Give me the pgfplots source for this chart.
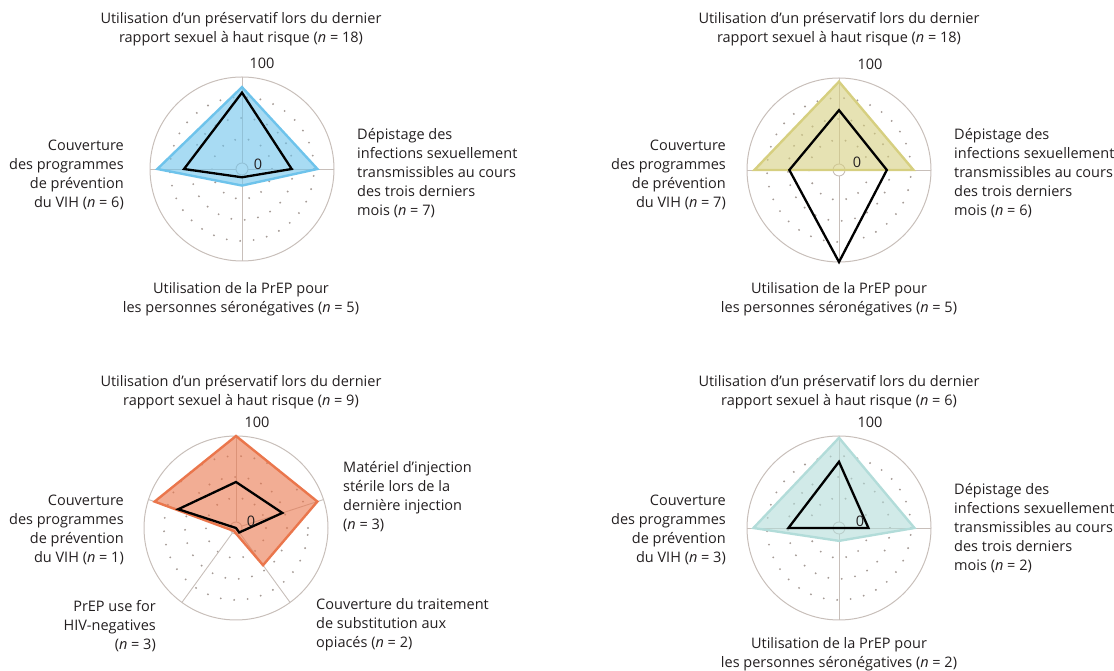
\documentclass[border=0pt]{standalone}
\usepackage{pgfplots}
\pgfplotsset{compat=1.18}
\usepackage{pgfplotstable}
\usepackage{fontspec}
\setmainfont{Open Sans}

\definecolor{gridgray}{RGB}{200,191,186}
\definecolor{dotgray}{RGB}{165,155,150}
\definecolor{txt}{RGB}{35,31,32}
\definecolor{cblue}{RGB}{110,195,235}
\definecolor{cyellow}{RGB}{214,207,128}
\definecolor{corange}{RGB}{234,118,76}
\definecolor{cteal}{RGB}{178,220,217}

% angle (deg), value (%)
\pgfplotstableread{
a v
90 89
0 82
-90 18
180 92
}\tabAarea
\pgfplotstableread{
a v
90 83
0 54
-90 9
180 63
}\tabAline
\pgfplotstableread{
a v
90 96
0 81
-90 0
180 92
}\tabBarea
\pgfplotstableread{
a v
90 65
0 52
-90 100
180 54
}\tabBline
\pgfplotstableread{
a v
90 100
18 93
-54 50
-126 4
162 93
}\tabCarea
\pgfplotstableread{
a v
90 50
18 53
-54 6
-126 0
162 66
}\tabCline
\pgfplotstableread{
a v
90 98
0 82
-90 14
180 93
}\tabDarea
\pgfplotstableread{
a v
90 72
0 32
-90 0
180 55
}\tabDline

\pgfplotsset{
  radar/.style={anchor=center, x=0.92pt, y=0.92pt,
    xmin=-102, xmax=102, ymin=-102, ymax=102,
    hide axis, clip=false, scale only axis},
  table/polarxy/.style={x expr={\thisrow{v}*cos(\thisrow{a})},
                        y expr={\thisrow{v}*sin(\thisrow{a})}},
  area/.style={draw=#1, fill=#1, fill opacity=0.6, line width=2.4pt, line join=miter},
  profile/.style={draw=black, line width=2.3pt, line join=miter},
}
\tikzset{dotring/.style={draw=dotgray, line width=2.1pt, line cap=round, dash pattern=on 0pt off 13.5pt}}

% circular frame, spokes at the given angles, dotted rings and the centre hole
\newcommand{\radargrid}[1]{%
  \draw[gridgray, line width=1pt] (axis cs:0,0) circle[radius=92pt];
  \draw[dotring] (axis cs:0,0) circle[radius=30pt];
  \draw[dotring] (axis cs:0,0) circle[radius=51pt];
  \draw[dotring] (axis cs:0,0) circle[radius=72pt];
  \pgfplotsinvokeforeach{#1}{%
    \draw[gridgray, line width=0.9pt] (axis cs:{6*cos(##1)},{6*sin(##1)}) -- (axis cs:{100*cos(##1)},{100*sin(##1)});}
  \draw[gridgray, fill=white, line width=0.9pt] (axis cs:0,0) circle[radius=6pt];
}

\begin{document}
\begin{tikzpicture}[x=1pt, y=1pt, font=\fontsize{14.5}{19}\selectfont, every node/.style={text=txt, inner sep=0pt}]
\useasboundingbox (0,0) rectangle (1114,671);

% ---------- top left ----------
\begin{axis}[radar, at={(242pt,502pt)}]
  \radargrid{90,0,-90,180}
  \addplot[area=cblue] table[polarxy] {\tabAarea} -- cycle;
  \addplot[profile] table[polarxy] {\tabAline} -- cycle;
\end{axis}
\node[align=center] at (241,642) {Utilisation d’un préservatif lors du dernier\\rapport sexuel à haut risque (\textit{n} = 18)};
\node at (262,608) {100};
\node at (258,507) {0};
\node[align=left, anchor=west] at (357,497.5) {Dépistage des\\infections sexuellement\\transmissibles au cours\\des trois derniers\\mois (\textit{n} = 7)};
\node[align=right, anchor=east] at (124,496.5) {Couverture\\des programmes\\de prévention\\du VIH (\textit{n} = 6)};
\node[align=center] at (241,372) {Utilisation de la PrEP pour\\les personnes séronégatives (\textit{n} = 5)};

% ---------- top right ----------
\begin{axis}[radar, at={(839pt,501pt)}]
  \radargrid{90,0,-90,180}
  \addplot[area=cyellow] table[polarxy] {\tabBarea} -- cycle;
  \addplot[profile] table[polarxy] {\tabBline} -- cycle;
\end{axis}
\node[align=center] at (839,642) {Utilisation d’un préservatif lors du dernier\\rapport sexuel à haut risque (\textit{n} = 18)};
\node at (870,607) {100};
\node at (857,509) {0};
\node[align=left, anchor=west] at (954,497.5) {Dépistage des\\infections sexuellement\\transmissibles au cours\\des trois derniers\\mois (\textit{n} = 6)};
\node[align=right, anchor=east] at (726,496.5) {Couverture\\des programmes\\de prévention\\du VIH (\textit{n} = 7)};
\node[align=center] at (839,372) {Utilisation de la PrEP pour\\les personnes séronégatives (\textit{n} = 5)};

% ---------- bottom left ----------
\begin{axis}[radar, at={(236pt,143pt)}]
  \radargrid{90,18,-54,-126,162}
  \addplot[area=corange] table[polarxy] {\tabCarea} -- cycle;
  \addplot[profile] table[polarxy] {\tabCline} -- cycle;
\end{axis}
\node[align=center] at (241,278.5) {Utilisation d’un préservatif lors du dernier\\rapport sexuel à haut risque (\textit{n} = 9)};
\node at (257,249) {100};
\node at (251,150) {0};
\node[align=left, anchor=west] at (343,174) {Matériel d'injection\\stérile lors de la\\dernière injection\\(\textit{n} = 3)};
\node[align=left, anchor=west] at (316,46.5) {Couverture du traitement\\de substitution aux\\opiacés (\textit{n} = 2)};
\node[align=right, anchor=east] at (156,45) {PrEP use for\\HIV-negatives\\(\textit{n} = 3)};
\node[align=right, anchor=east] at (124,141) {Couverture\\des programmes\\de prévention\\du VIH (\textit{n} = 1)};

% ---------- bottom right ----------
\begin{axis}[radar, at={(839pt,143pt)}]
  \radargrid{90,0,-90,180}
  \addplot[area=cteal] table[polarxy] {\tabDarea} -- cycle;
  \addplot[profile] table[polarxy] {\tabDline} -- cycle;
\end{axis}
\node[align=center] at (839,278.5) {Utilisation d’un préservatif lors du dernier\\rapport sexuel à haut risque (\textit{n} = 6)};
\node at (870,249) {100};
\node at (860,150) {0};
\node[align=left, anchor=west] at (954,142.5) {Dépistage des\\infections sexuellement\\transmissibles au cours\\des trois derniers\\mois (\textit{n} = 2)};
\node[align=right, anchor=east] at (726,141) {Couverture\\des programmes\\de prévention\\du VIH (\textit{n} = 3)};
\node[align=center] at (839,17) {Utilisation de la PrEP pour\\les personnes séronégatives (\textit{n} = 2)};
\end{tikzpicture}
\end{document}
